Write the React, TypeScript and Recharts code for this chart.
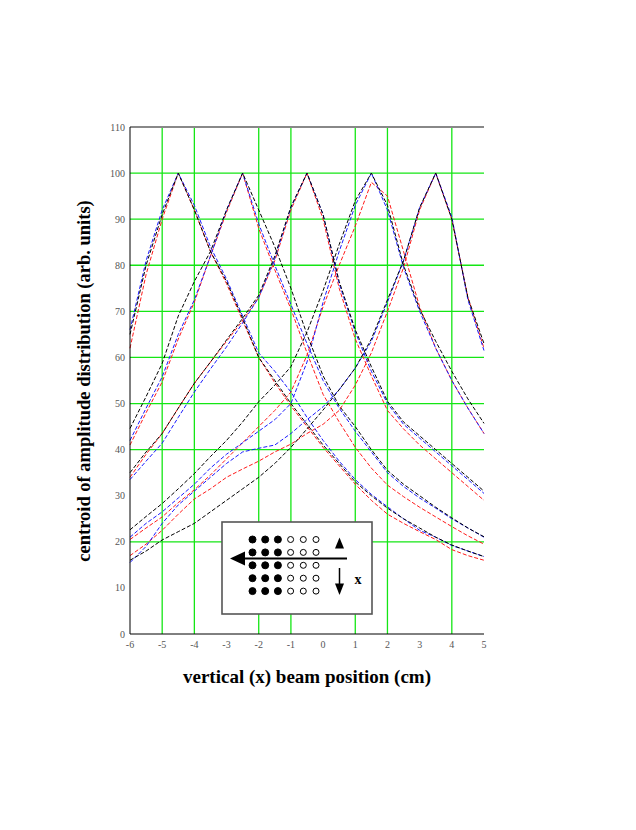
import React from 'react';
import { LineChart, Line, XAxis, YAxis, ReferenceLine } from 'recharts';

// beam position (cm)
const positions = [-6, -5.5, -5, -4.5, -4, -3.5, -3, -2.5, -2, -1.5, -1, -0.5, 0, 0.5, 1, 1.5, 2, 2.5, 3, 3.5, 4, 4.5, 5];

// channel peaking at -4.5
const chA_black = [65, 80, 91, 100, 92, 83, 76.5, 68.5, 60, 55, 50, 45.5, 41, 37, 33, 30, 27.3, 25, 23, 21, 19.3, 18, 16.8];
const chA_red = [62, 78, 90, 100, 92, 83, 76, 68, 60, 54.5, 49.5, 45, 40.5, 36.5, 32.5, 29, 26, 24, 22.2, 20.5, 18.3, 17, 16];
const chA_blue = [66, 81, 92, 100, 93, 84, 77, 69, 61, 57, 52.5, 47, 42, 37.5, 33.5, 30.3, 27.6, 25, 22.5, 21, 19.2, 18, 16.8];

// channel peaking at -2.5
const chB_black = [44.6, 51.5, 58.7, 69, 76.5, 83, 92, 100, 92, 84, 75, 65, 56, 49.5, 45, 40, 35.5, 32.5, 30, 27.5, 25.2, 23, 21.1];
const chB_red = [41, 48, 54.7, 64, 72, 82, 91.5, 100, 88, 79, 70.5, 61, 52, 46, 40.5, 36, 32.3, 29.8, 27.5, 25.4, 23.3, 21.3, 19.5];
const chB_blue = [42, 49, 55.8, 65, 72.5, 82, 92, 100, 89, 80, 71.5, 63, 55, 49, 44, 39.5, 35, 32, 29.5, 27.3, 25, 23, 21];

// channel peaking at -0.5
const chC_black = [35, 39.5, 43.5, 49, 54.4, 59, 63.8, 68.5, 73.5, 82, 92.7, 100, 91, 76.5, 66, 58, 50.5, 46, 43, 40, 37, 34, 31];
const chC_red = [34, 39, 43.5, 49, 54.4, 59, 63.5, 68, 73, 81, 92, 100, 90, 75, 64, 56, 48.5, 44.5, 41, 38, 35, 32, 29];
const chC_blue = [33.5, 37.5, 41.4, 47, 52.5, 57.5, 62.3, 67.5, 73, 81.5, 92.5, 100, 91, 76, 65.5, 57, 50, 45.5, 42.5, 39.5, 36.5, 33.5, 30.5];

// channel peaking at 1.5
const chD_black = [22.6, 25.5, 28.3, 31.5, 34.8, 38.5, 42, 46, 50.4, 54, 58, 65.5, 74.5, 84.5, 94, 100, 93, 80, 70.5, 63.5, 57, 51, 45.7];
const chD_red = [20.5, 23, 25.4, 28.5, 31.3, 34.5, 38, 41.5, 45, 48.5, 52.5, 60.5, 71, 80, 88.5, 98, 95, 83, 71, 62, 55, 49, 43.5];
const chD_blue = [21, 24, 26.5, 29.5, 32.5, 36, 39, 41.5, 44, 46.5, 50, 59, 72, 83, 93, 100, 92, 79.5, 70, 62, 55, 49, 43.5];

// channel peaking at 3.5
const chE_black = [16, 18, 20.4, 22.2, 24, 26.5, 29, 31.5, 34, 37, 40.5, 44.5, 48.6, 53, 57.7, 64, 72.5, 81, 92.5, 100, 90, 73, 63];
const chE_red = [17, 19.5, 22.5, 26, 29.3, 31.5, 34, 35.8, 37.5, 39.5, 41.2, 43.5, 45.5, 48.5, 54, 61, 70, 79.5, 92, 100, 90, 73, 62];
const chE_blue = [15.5, 19, 24, 28, 31, 34, 37, 39.5, 40.3, 41, 43.5, 46.5, 49.3, 53, 57.7, 63.5, 72, 81, 92.5, 100, 90.5, 72.5, 61.5];

const xTicks = [-6, -5, -4, -3, -2, -1, 0, 1, 2, 3, 4, 5];
const yTicks = [0, 10, 20, 30, 40, 50, 60, 70, 80, 90, 100, 110];
const gridX = [-5, -4, -2, -1, 1, 2, 4];
const gridY = [20, 40, 50, 60, 70, 80, 90, 100];

const RED = '#ff1a1a';
const BLUE = '#1a1aff';
const BLACK = '#000000';
const GREEN = '#14e614';

const series = [
  { key: 'aRed', values: chA_red, color: RED },
  { key: 'bRed', values: chB_red, color: RED },
  { key: 'cRed', values: chC_red, color: RED },
  { key: 'dRed', values: chD_red, color: RED },
  { key: 'eRed', values: chE_red, color: RED },
  { key: 'aBlue', values: chA_blue, color: BLUE },
  { key: 'bBlue', values: chB_blue, color: BLUE },
  { key: 'cBlue', values: chC_blue, color: BLUE },
  { key: 'dBlue', values: chD_blue, color: BLUE },
  { key: 'eBlue', values: chE_blue, color: BLUE },
  { key: 'aBlack', values: chA_black, color: BLACK },
  { key: 'bBlack', values: chB_black, color: BLACK },
  { key: 'cBlack', values: chC_black, color: BLACK },
  { key: 'dBlack', values: chD_black, color: BLACK },
  { key: 'eBlack', values: chE_black, color: BLACK },
];

const data = positions.map((x, i) => {
  const row: Record<string, number> = { x };
  series.forEach(s => {
    row[s.key] = s.values[i];
  });
  return row;
});

const serif = '"Liberation Serif", "DejaVu Serif", serif';
const tickStyle = { fontSize: 10, fill: '#555', fontFamily: serif };

// inset sketch: detector cells and beam direction
const cellCols = [0, 1, 2, 3, 4, 5];
const cellRows = [0, 1, 2, 3, 4];

const Inset = () => (
  <g>
    <rect x={222} y={522} width={150} height={92} fill="#fff" stroke="#555" strokeWidth={1.6} />
    {cellRows.map(r =>
      cellCols.map(c => (
        <circle
          key={`${r}-${c}`}
          cx={252.5 + c * 12.7}
          cy={539.5 + r * 12.9}
          r={c < 3 ? 3.5 : 3}
          fill={c < 3 ? '#000' : '#fff'}
          stroke="#000"
          strokeWidth={1}
        />
      ))
    )}
    <line x1={242} y1={558.5} x2={347} y2={558.5} stroke="#000" strokeWidth={1.8} />
    <polygon points="230,558.5 245,551.5 245,565.5" fill="#000" />
    <polygon points="339.5,537.5 335,548.5 344,548.5" fill="#000" />
    <line x1={339.5} y1={568} x2={339.5} y2={585} stroke="#000" strokeWidth={1.5} />
    <polygon points="339.5,595 335,583.5 344,583.5" fill="#000" />
    <text x={358} y={584} fontFamily={serif} fontWeight="bold" fontSize={14} textAnchor="middle">
      x
    </text>
  </g>
);

export default function App() {
  return (
    <div style={{ position: 'absolute', left: 0, top: 0, width: 636, height: 830, background: '#fff' }}>
      <LineChart
        width={636}
        height={830}
        data={data}
        margin={{ top: 127, right: 152, bottom: 166, left: 100 }}
      >
        {gridX.map(v => (
          <ReferenceLine key={`gx${v}`} x={v} stroke={GREEN} strokeWidth={1.3} />
        ))}
        {gridY.map(v => (
          <ReferenceLine key={`gy${v}`} y={v} stroke={GREEN} strokeWidth={1.3} />
        ))}
        <ReferenceLine y={110} stroke="#888" strokeWidth={2} />
        <XAxis
          dataKey="x"
          type="number"
          domain={[-6, 5]}
          ticks={xTicks}
          height={30}
          tickLine={false}
          tickSize={3}
          tickMargin={4}
          axisLine={{ stroke: '#000', strokeWidth: 1 }}
          tick={tickStyle}
          interval={0}
        />
        <YAxis
          type="number"
          domain={[0, 110]}
          ticks={yTicks}
          width={30}
          tickLine={false}
          tickSize={3}
          tickMargin={2}
          axisLine={{ stroke: '#000', strokeWidth: 1 }}
          tick={tickStyle}
          interval={0}
        />
        {series.map(s => (
          <Line
            key={s.key}
            type="linear"
            dataKey={s.key}
            stroke={s.color}
            strokeWidth={1}
            strokeDasharray="4 2"
            dot={false}
            activeDot={false}
            isAnimationActive={false}
          />
        ))}
      </LineChart>
      <svg
        width={636}
        height={830}
        style={{ position: 'absolute', left: 0, top: 0, pointerEvents: 'none' }}
      >
        <Inset />
        <text
          transform="translate(84 381) rotate(-90)"
          textAnchor="middle"
          dominantBaseline="central"
          fontFamily={serif}
          fontWeight="bold"
          fontSize={18.5}
        >
          centroid of amplitude distribution (arb. units)
        </text>
        <text
          x={307}
          y={676}
          textAnchor="middle"
          dominantBaseline="central"
          fontFamily={serif}
          fontWeight="bold"
          fontSize={19}
        >
          vertical (x) beam position (cm)
        </text>
      </svg>
    </div>
  );
}
